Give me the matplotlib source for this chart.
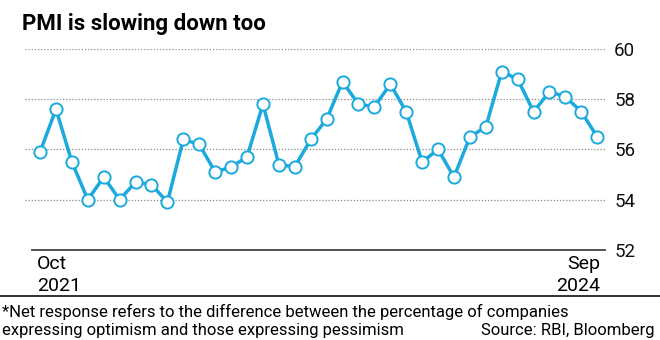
import numpy as np
import matplotlib.pyplot as plt
from matplotlib.lines import Line2D

plt.rcParams['font.family'] = ['Roboto', 'DejaVu Sans']

# India manufacturing PMI, Oct 2021 - Sep 2024
months = ['Oct 2021', 'Nov 2021', 'Dec 2021', 'Jan 2022', 'Feb 2022', 'Mar 2022',
          'Apr 2022', 'May 2022', 'Jun 2022', 'Jul 2022', 'Aug 2022', 'Sep 2022',
          'Oct 2022', 'Nov 2022', 'Dec 2022', 'Jan 2023', 'Feb 2023', 'Mar 2023',
          'Apr 2023', 'May 2023', 'Jun 2023', 'Jul 2023', 'Aug 2023', 'Sep 2023',
          'Oct 2023', 'Nov 2023', 'Dec 2023', 'Jan 2024', 'Feb 2024', 'Mar 2024',
          'Apr 2024', 'May 2024', 'Jun 2024', 'Jul 2024', 'Aug 2024', 'Sep 2024']
pmi = [55.9, 57.6, 55.5, 54.0, 54.9, 54.0, 54.7, 54.6, 53.9, 56.4, 56.2, 55.1,
       55.3, 55.7, 57.8, 55.4, 55.3, 56.4, 57.2, 58.7, 57.8, 57.7, 58.6, 57.5,
       55.5, 56.0, 54.9, 56.5, 56.9, 59.1, 58.8, 57.5, 58.3, 58.1, 57.5, 56.5]
y_ticks = [52, 54, 56, 58, 60]

blue = '#1ba9de'

fig = plt.figure(figsize=(6.6, 3.4), dpi=100)
ax = fig.add_axes([0.038, 0.265, 0.879, 0.591])

x = np.arange(len(pmi))
ax.plot(x, pmi, color=blue, lw=2.5, marker='o', ms=8.8, mfc='white',
        mec=blue, mew=1.4, clip_on=False, zorder=3)

ax.set_xlim(-0.94, 35.5)
ax.set_ylim(52, 60)
ax.set_yticks(y_ticks)
ax.yaxis.tick_right()
ax.tick_params(axis='y', length=0, labelsize=13.5, pad=6.5, colors='#111111')
ax.set_xticks([])
for y in y_ticks[1:]:
    ax.axhline(y, color='#888888', lw=0.9, ls=(0, (1, 1.5)), zorder=1)
for s in ['top', 'right', 'left', 'bottom']:
    ax.spines[s].set_visible(False)
# baseline at 52 starts a little right of the grid
ax.plot([-0.5, 35.5], [52, 52], color='#444444', lw=1.3, clip_on=False)

# first / last month labels
fig.text(0.056, 0.208, 'Oct', fontsize=14, ha='left', va='baseline')
fig.text(0.056, 0.145, '2021', fontsize=14, ha='left', va='baseline')
fig.text(0.909, 0.208, 'Sep', fontsize=14, ha='right', va='baseline')
fig.text(0.909, 0.145, '2024', fontsize=14, ha='right', va='baseline')

fig.text(0.033, 0.912, 'PMI is slowing down too', fontsize=16,
         fontweight='bold', ha='left', va='baseline')

fig.add_artist(Line2D([0, 1], [0.128, 0.128], color='#222222', lw=1.3))
fig.text(0.003, 0.0685, '*Net response refers to the difference between the percentage of companies',
         fontsize=12, ha='left', va='baseline')
fig.text(0.003, 0.0147, 'expressing optimism and those expressing pessimism',
         fontsize=12, ha='left', va='baseline')
fig.text(0.992, 0.0147, 'Source: RBI, Bloomberg', fontsize=12, ha='right', va='baseline')

fig.savefig('out.png', dpi=100)
